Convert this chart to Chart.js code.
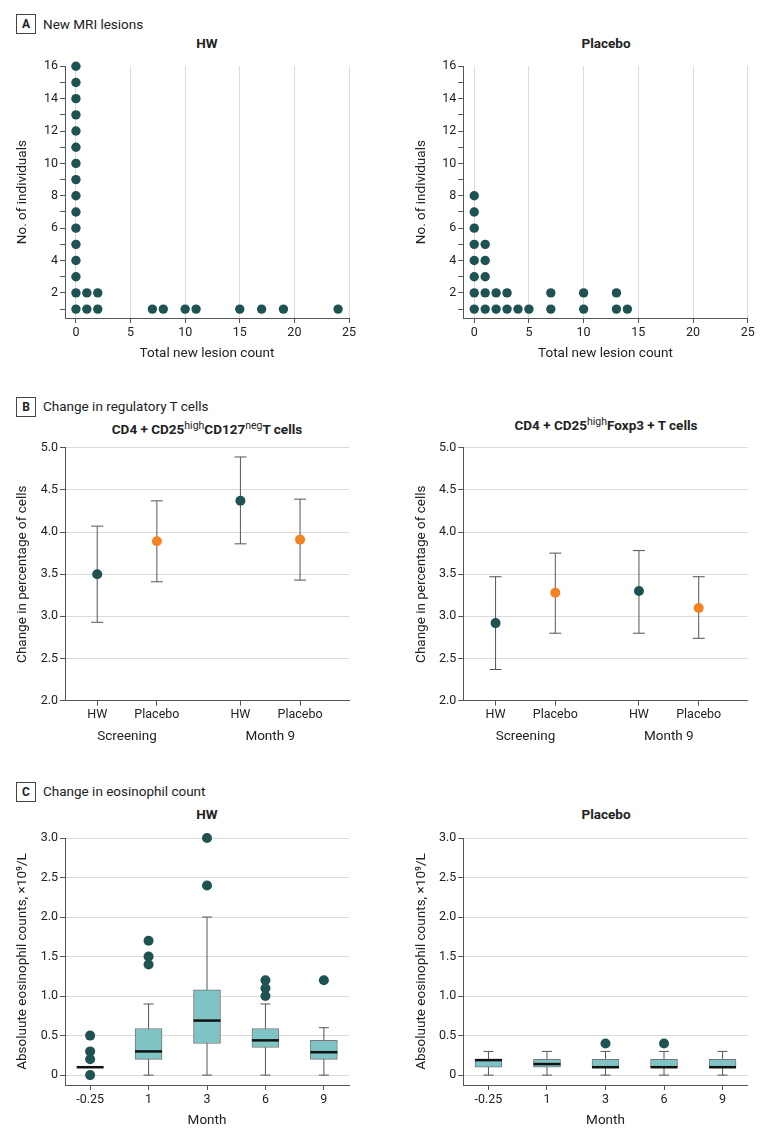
<!DOCTYPE html>
<html>
<head>
<meta charset="utf-8">
<script src="https://cdn.jsdelivr.net/npm/chart.js@4.4.1/dist/chart.umd.min.js"></script>
<style>
  body { margin: 0; background: #fff; font-family: Roboto, sans-serif; color: #222; }
  #page { position: relative; width: 780px; height: 1140px; overflow: hidden; }
  canvas { position: absolute; }
  .box { position: absolute; left: 16px; width: 18px; height: 18px; border: 1px solid #444;
         font-weight: bold; font-size: 12px; line-height: 18px; text-align: center; box-sizing: content-box; }
  .hdr { position: absolute; left: 43px; font-size: 13.5px; transform: translateY(-50%); white-space: nowrap; }
  .ttl { position: absolute; transform: translate(-50%, -50%); font-weight: bold; font-size: 13.5px;
         line-height: 16px; white-space: nowrap; }
  .ttl sup { font-size: 10.5px; font-weight: normal; vertical-align: 5px; line-height: 0; }
</style>
</head>
<body>
<div id="page">
  <div class="box" style="top:14px">A</div><div class="hdr" style="top:24px">New MRI lesions</div>
  <div class="box" style="top:397px">B</div><div class="hdr" style="top:406px">Change in regulatory T cells</div>
  <div class="box" style="top:782px">C</div><div class="hdr" style="top:791px">Change in eosinophil count</div>

  <div class="ttl" style="left:207px;top:43px">HW</div>
  <div class="ttl" style="left:606px;top:43px">Placebo</div>
  <div class="ttl" style="left:207px;top:429px">CD4 + CD25<sup>high</sup>CD127<sup>neg</sup>T cells</div>
  <div class="ttl" style="left:606px;top:425px">CD4 + CD25<sup>high</sup>Foxp3 + T cells</div>
  <div class="ttl" style="left:207px;top:814px">HW</div>
  <div class="ttl" style="left:606px;top:814px">Placebo</div>

  <canvas id="aHW" width="390" height="310" style="left:0;top:56px"></canvas>
  <canvas id="aPl" width="390" height="310" style="left:390px;top:56px"></canvas>
  <canvas id="bL" width="390" height="310" style="left:0;top:436px"></canvas>
  <canvas id="bR" width="390" height="310" style="left:390px;top:436px"></canvas>
  <canvas id="cHW" width="390" height="318" style="left:0;top:822px"></canvas>
  <canvas id="cPl" width="390" height="318" style="left:390px;top:822px"></canvas>
</div>
<script>
// A: new lesion count -> number of individuals with that count
var hwLesionCount = [0, 1, 2, 7, 8, 10, 11, 15, 17, 19, 24];
var hwIndividuals = [16, 2, 2, 1, 1, 1, 1, 1, 1, 1, 1];
var plLesionCount = [0, 1, 2, 3, 4, 5, 7, 10, 13, 14];
var plIndividuals = [8, 5, 2, 2, 1, 1, 2, 2, 2, 1];
var lesionTicks = [0, 5, 10, 15, 20, 25];
var individualTicks = [1, 2, 3, 4, 5, 6, 7, 8, 9, 10, 11, 12, 13, 14, 15, 16];

// B: mean and interval, screening / month 9
var bGroups = ['HW', 'Placebo', 'HW', 'Placebo'];
var bPeriods = ['Screening', 'Month 9'];
var cd127Mean = [3.50, 3.89, 4.37, 3.91];
var cd127Low = [2.93, 3.41, 3.86, 3.43];
var cd127High = [4.07, 4.37, 4.89, 4.39];
var foxp3Mean = [2.92, 3.28, 3.30, 3.10];
var foxp3Low = [2.37, 2.80, 2.80, 2.74];
var foxp3High = [3.47, 3.75, 3.78, 3.47];
var pctTicks = [2.0, 2.5, 3.0, 3.5, 4.0, 4.5, 5.0];

// C: eosinophil boxplots by month
var months = ['-0.25', '1', '3', '6', '9'];
var hwMin = [0.1, 0, 0, 0, 0];
var hwQ1 = [0.1, 0.2, 0.4, 0.35, 0.2];
var hwMed = [0.1, 0.3, 0.69, 0.44, 0.29];
var hwQ3 = [0.1, 0.59, 1.08, 0.59, 0.44];
var hwMax = [0.1, 0.9, 2.0, 0.9, 0.6];
var hwOut = [[0.5, 0.3, 0.2, 0], [1.7, 1.5, 1.4], [3.0, 2.4], [1.2, 1.1, 1.0], [1.2]];
var plMin = [0, 0, 0, 0, 0];
var plQ1 = [0.1, 0.1, 0.1, 0.1, 0.1];
var plMed = [0.19, 0.14, 0.1, 0.1, 0.1];
var plQ3 = [0.2, 0.2, 0.2, 0.2, 0.2];
var plMax = [0.3, 0.3, 0.3, 0.3, 0.3];
var plOut = [[], [], [0.4], [0.4], []];
var eosTicks = [0, 0.5, 1.0, 1.5, 2.0, 2.5, 3.0];

var TEAL = '#1f5252', ORANGE = '#f58220', BOXFILL = '#7ec4c4';
var AXIS = '#555', GRID = '#dadada', TXT = '#222';
var bPos = [1, 2, 3.4, 4.4];      // x slots for the four groups
var periodPos = [1.5, 3.9];

Chart.defaults.font.family = 'Roboto';
Chart.defaults.color = TXT;

function fixedTicks(list) {
  return function(s) { s.ticks = list.map(function(v) { return {value: v}; }); };
}

function yAxis(o) {
  return {
    min: o.min, max: o.max, beginAtZero: false,
    afterBuildTicks: fixedTicks(o.ticks),
    ticks: {callback: o.fmt, color: TXT, font: {size: 12.5}, padding: 2, autoSkip: false},
    grid: {drawOnChartArea: o.grid, color: GRID, tickColor: AXIS, tickLength: 5},
    border: {color: AXIS},
    title: {display: true, text: o.title, color: TXT, font: {size: 13.5}, padding: {top: o.titlePad, bottom: 0}},
    afterFit: function(s) { s.width = o.width; }
  };
}

function xAxis(o) {
  return {
    type: 'linear', position: 'bottom', min: o.min, max: o.max, weight: 0, offset: false,
    afterBuildTicks: fixedTicks(o.ticks),
    ticks: {callback: o.fmt, color: TXT, font: {size: 12.5}, padding: 2, maxRotation: 0, autoSkip: false},
    grid: {drawOnChartArea: o.grid, offset: false, color: GRID, tickColor: AXIS, tickLength: 5},
    border: {color: AXIS},
    title: {display: !!o.title, text: o.title, color: TXT, font: {size: 13.5}, padding: {top: 0, bottom: o.titlePad || 0}},
    afterFit: function(s) { s.height = o.height; }
  };
}

function makeChart(id, padRight, padTop, datasets, scales) {
  return new Chart(document.getElementById(id), {
    type: 'scatter',
    data: {datasets: datasets},
    options: {
      responsive: false, animation: false, devicePixelRatio: 1, events: [],
      layout: {padding: {top: padTop, right: padRight, left: 0, bottom: 0}},
      plugins: {legend: {display: false}, tooltip: {enabled: false}},
      scales: scales
    }
  });
}

// ---- A ----
function dotPoints(counts, ns) {
  var pts = [];
  counts.forEach(function(c, i) {
    for (var k = 1; k <= ns[i]; k++) pts.push({x: c, y: k});
  });
  return pts;
}

function lesionChart(id, counts, ns, left) {
  var yw = left ? 65 : 73.3;
  makeChart(id, left ? 41 : 32.3, 10.3, [{
    data: dotPoints(counts, ns), pointRadius: 4.7, pointBackgroundColor: TEAL, pointBorderWidth: 0, clip: false
  }], {
    x: xAxis({min: -1, max: 25, ticks: lesionTicks, grid: true, height: 48,
              title: 'Total new lesion count', titlePad: 4}),
    y: yAxis({min: 0.45, max: 16, ticks: individualTicks, grid: false, width: yw,
              fmt: function(v) { return v % 2 === 0 ? String(v) : ''; },
              title: 'No. of individuals', titlePad: left ? 15 : 24})
  });
}
lesionChart('aHW', hwLesionCount, hwIndividuals, true);
lesionChart('aPl', plLesionCount, plIndividuals, false);

// ---- B ----
function tcellChart(id, mean, low, high, left) {
  var ds = bPos.map(function(p, i) {
    return {type: 'line', data: [{x: p, y: low[i]}, {x: p, y: high[i]}], borderColor: AXIS, borderWidth: 1,
            pointStyle: 'line', pointRadius: 6, pointBorderColor: AXIS, pointBorderWidth: 1, order: 1, clip: false};
  });
  ds.push({data: bPos.map(function(p, i) { return {x: p, y: mean[i]}; }), pointRadius: 5,
           pointBackgroundColor: bGroups.map(function(g) { return g === 'HW' ? TEAL : ORANGE; }),
           pointBorderWidth: 0, order: 0, clip: false});
  var x = xAxis({min: 0.46, max: 5.22, ticks: bPos, grid: false, height: 22,
                 fmt: function(v, i) { return bGroups[i]; }});
  var x2 = {
    type: 'linear', position: 'bottom', min: 0.46, max: 5.22, weight: 1, offset: false,
    afterBuildTicks: fixedTicks(periodPos),
    ticks: {callback: function(v, i) { return bPeriods[i]; }, color: TXT, font: {size: 13.5}, padding: 6, maxRotation: 0, autoSkip: false},
    grid: {display: false, drawTicks: false},
    border: {display: false},
    afterFit: function(s) { s.height = 23.3; }
  };
  makeChart(id, left ? 41 : 32.3, 11.7, ds, {
    x: x, x2: x2,
    y: yAxis({min: 2, max: 5, ticks: pctTicks, grid: true, width: left ? 65 : 73.3,
              fmt: function(v) { return v.toFixed(1); },
              title: 'Change in percentage of cells', titlePad: left ? 15 : 24})
  });
}
tcellChart('bL', cd127Mean, cd127Low, cd127High, true);
tcellChart('bR', foxp3Mean, foxp3Low, foxp3High, false);

// ---- C ----
function eosChart(id, lo, q1, med, q3, hi, outs, left) {
  var ds = months.map(function(m, i) {
    return {type: 'line', data: [{x: i, y: lo[i]}, {x: i, y: hi[i]}], borderColor: AXIS, borderWidth: 1,
            pointStyle: 'line', pointRadius: 5, pointBorderColor: AXIS, pointBorderWidth: 1, order: 3, clip: false};
  });
  ds.push({type: 'bar', data: months.map(function(m, i) { return {x: i, y: [q1[i], q3[i]]}; }),
           backgroundColor: BOXFILL, borderColor: '#777', borderWidth: 1, borderSkipped: false,
           barThickness: 27, grouped: false, order: 2});
  ds.push({data: months.map(function(m, i) { return {x: i, y: med[i]}; }), pointStyle: 'line',
           pointRadius: 13.5, pointBorderColor: '#111', borderColor: '#111', pointBorderWidth: 2.5, order: 1, clip: false});
  var pts = [];
  outs.forEach(function(arr, i) { arr.forEach(function(v) { pts.push({x: i, y: v}); }); });
  ds.push({data: pts, pointRadius: 5, pointBackgroundColor: TEAL, pointBorderWidth: 0, order: 0, clip: false});
  makeChart(id, left ? 41 : 32.3, 10.7, ds, {
    x: xAxis({min: -0.43, max: 4.43, ticks: [0, 1, 2, 3, 4], grid: false, height: 55,
              fmt: function(v, i) { return months[i]; }, title: 'Month', titlePad: 10.9}),
    y: yAxis({min: -0.125, max: 3, ticks: eosTicks, grid: true, width: left ? 65 : 73.3,
              fmt: function(v) { return v === 0 ? '0' : v.toFixed(1); },
              title: 'Absoluute eosinophil counts, \u00d710\u2079/L', titlePad: left ? 15 : 24})
  });
}
eosChart('cHW', hwMin, hwQ1, hwMed, hwQ3, hwMax, hwOut, true);
eosChart('cPl', plMin, plQ1, plMed, plQ3, plMax, plOut, false);
</script>
</body>
</html>
